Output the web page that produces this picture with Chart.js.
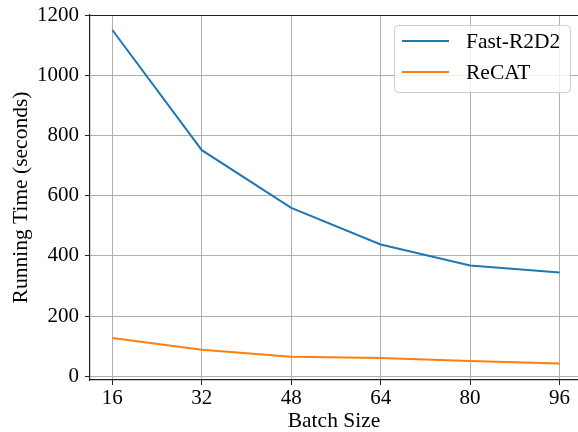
<!DOCTYPE html>
<html>
<head>
<meta charset="utf-8">
<script src="https://cdn.jsdelivr.net/npm/chart.js@4/dist/chart.umd.min.js"></script>
<style>
  html, body { margin: 0; padding: 0; background: #fff; }
  canvas { display: block; }
</style>
</head>
<body>
<canvas id="runChart" width="578" height="432"></canvas>
<script>
// values
const batchSizes = [16, 32, 48, 64, 80, 96];
const fastR2D2 = [1152, 752, 560, 438, 368, 345];
const recat = [127, 88, 64, 60, 50, 42];
const xTicks = [16, 32, 48, 64, 80, 96];
const yTicks = [0, 200, 400, 600, 800, 1000, 1200];

const FONT = "'Liberation Serif', 'Times New Roman', serif";

const toPoints = (ys) => batchSizes.map((x, i) => ({ x: x, y: ys[i] }));

// top spine + legend inside the axes, matplotlib style
const framePlugin = {
  id: 'frame',
  afterDraw(chart) {
    const { ctx, chartArea } = chart;
    ctx.save();
    ctx.strokeStyle = '#222';
    ctx.lineWidth = 1.2;
    ctx.beginPath();
    ctx.moveTo(chartArea.left, chartArea.top + 0.5);
    ctx.lineTo(chartArea.right, chartArea.top + 0.5);
    ctx.stroke();

    // legend box
    const bx = 394.5, by = 25.5, bw = 176, bh = 67, r = 4;
    ctx.fillStyle = 'rgba(255,255,255,0.8)';
    ctx.strokeStyle = '#cccccc';
    ctx.lineWidth = 1;
    ctx.beginPath();
    ctx.roundRect(bx, by, bw, bh, r);
    ctx.fill();
    ctx.stroke();

    ctx.font = '21.5px ' + FONT;
    ctx.textBaseline = 'middle';
    ctx.textAlign = 'left';
    chart.data.datasets.forEach((ds, i) => {
      const y = 41 + i * 31;
      ctx.strokeStyle = ds.borderColor;
      ctx.lineWidth = 2;
      ctx.beginPath();
      ctx.moveTo(402, y);
      ctx.lineTo(449, y);
      ctx.stroke();
      ctx.fillStyle = '#000';
      ctx.fillText(ds.label, 466, y + 1);
    });
    ctx.restore();
  }
};

new Chart(document.getElementById('runChart'), {
  type: 'line',
  data: {
    datasets: [
      { label: 'Fast-R2D2', data: toPoints(fastR2D2), borderColor: '#1f77b4', borderWidth: 2, pointRadius: 0, tension: 0, fill: false },
      { label: 'ReCAT', data: toPoints(recat), borderColor: '#ff7f0e', borderWidth: 2, pointRadius: 0, tension: 0, fill: false }
    ]
  },
  options: {
    responsive: false,
    animation: false,
    layout: { padding: { top: 15, right: 0, left: 0, bottom: 0 } },
    plugins: {
      legend: { display: false },
      tooltip: { enabled: false }
    },
    scales: {
      x: {
        type: 'linear',
        min: 12,
        max: 99.3,
        afterBuildTicks: (s) => { s.ticks = xTicks.map(v => ({ value: v })); },
        afterFit: (s) => { s.height = 52; s.paddingLeft = 0; s.paddingRight = 0; },
        grid: { color: '#b0b0b0', lineWidth: 1, tickColor: '#222', tickLength: 5, drawTicks: true },
        border: { display: true, color: '#222', width: 1.2 },
        ticks: { color: '#000', padding: 1, font: { family: FONT, size: 21 }, maxRotation: 0, callback: (v) => String(v) },
        title: { display: true, text: 'Batch Size', color: '#000', font: { family: FONT, size: 21.5 }, padding: { top: 0, bottom: -2.5 } }
      },
      y: {
        type: 'linear',
        min: -13,
        max: 1202,
        afterBuildTicks: (s) => { s.ticks = yTicks.map(v => ({ value: v })); },
        afterFit: (s) => { s.width = 90; s.paddingTop = 0; s.paddingBottom = 0; },
        grid: { color: '#b0b0b0', lineWidth: 1, tickColor: '#222', tickLength: 5, drawTicks: true },
        border: { display: true, color: '#222', width: 1.2 },
        ticks: { color: '#000', padding: 6, font: { family: FONT, size: 21 }, callback: (v) => String(v) },
        title: { display: true, text: 'Running Time (seconds)', color: '#000', font: { family: FONT, size: 21.5 }, padding: { top: 8, bottom: 0 } }
      }
    }
  },
  plugins: [framePlugin]
});
</script>
</body>
</html>
